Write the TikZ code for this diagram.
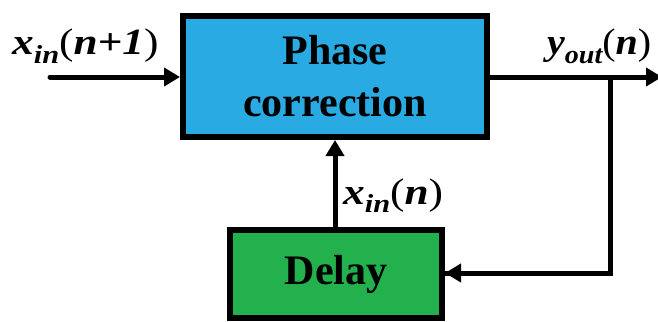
\documentclass[tikz,border=0pt]{standalone}
\usepackage{fontspec}
\setmainfont{Liberation Serif}
\usetikzlibrary{arrows.meta}
\definecolor{phaseblue}{RGB}{41,170,226}
\definecolor{delaygreen}{RGB}{34,177,76}
\newcommand{\sig}[4][1.17]{\scalebox{#1}[1]{{\bfseries\itshape #2}\raisebox{-0.22em}{\fontsize{26}{26}\selectfont\bfseries\itshape #3}{\mdseries\upshape(}{\bfseries\itshape #4}{\mdseries\upshape)}}}
\begin{document}
\begin{tikzpicture}[x=1pt,y=-1pt,
  blockbox/.style={draw=black,line width=6pt,inner sep=0pt,align=center,
    font=\fontsize{42}{52}\selectfont\bfseries},
  conn/.style={line width=5pt,-{Triangle[length=16pt,width=18pt]}},
  lbl/.style={anchor=base west,inner sep=0pt,font=\fontsize{37}{40}\selectfont}]
\useasboundingbox (0,0) rectangle (658,321);
\clip (0,0) rectangle (658,321);
\node[blockbox,fill=phaseblue,minimum width=304pt,minimum height=121pt] (phase) at (335,76.5) {Phase\\correction};
\node[blockbox,fill=delaygreen,minimum width=212pt,minimum height=88pt] (delay) at (336,274) {Delay};
\coordinate (in) at (50,77);
\coordinate (out) at (662,77);
\coordinate (branch) at (610,77);
\coordinate (corner) at (610,273);
\draw[conn,line cap=round] (in) -- (in -| phase.west);
\draw[conn] (phase.east |- out) -- (out);
\draw[line width=5pt,line join=miter] (branch) -- (corner) -- (corner -| delay.east);
\draw[conn] (corner) -- (corner -| delay.east);
\draw[conn] (delay.north -| 335,0) -- (phase.south -| 335,0);
\node[lbl] (l1) at (12,55) {\sig{x}{in}{n+1}};
\node[lbl] (l2) at (547,55) {\sig[1.08]{y}{out}{n}};
\node[lbl] (l3) at (343,204) {\sig{x}{in}{n}};
\end{tikzpicture}
\end{document}
